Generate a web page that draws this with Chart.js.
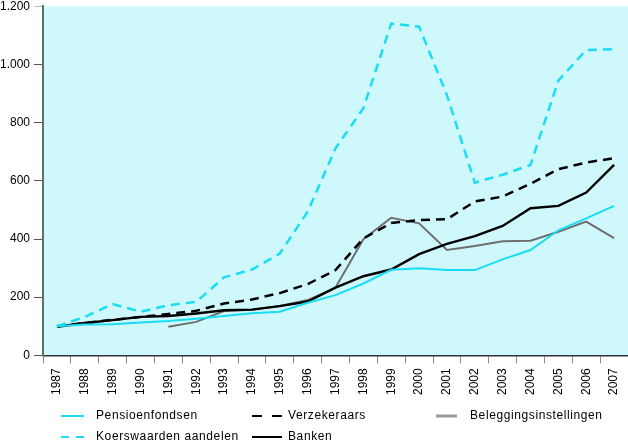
<!DOCTYPE html>
<html><head><meta charset="utf-8">
<script src="https://cdn.jsdelivr.net/npm/chart.js@4"></script>
<style>html,body{margin:0;padding:0;background:#fff}#wrap{width:628px;height:440px;position:relative}</style>
</head><body><div id="wrap"><canvas id="c" width="628" height="440"></canvas></div>
<script>
const years = ['1987','1988','1989','1990','1991','1992','1993','1994','1995','1996','1997','1998','1999','2000','2001','2002','2003','2004','2005','2006','2007'];
const pensioenfondsen = [100,106,107,113,118,126,135,145,150,181,207,247,294,299,293,293,330,362,430,471,514];
const koerswaardenAandelen = [100,132,176,150,172,184,268,295,350,494,712,850,1141,1130,895,594,621,655,945,1050,1053];
const verzekeraars = [100,111,122,132,142,153,178,192,214,245,293,402,455,465,468,529,546,590,640,663,678];
const banken = [98,111,121,132,135,144,155,157,169,185,233,272,295,348,383,410,445,506,514,560,655];
const beleggingsinstellingen = [null,null,null,null,98,115,152,157,170,190,233,399,473,454,362,376,392,394,425,460,403];
const yTickValues = [0,200,400,600,800,1000,1200];

const CYAN = '#19DCF6', GRAY = '#6E6E6E', BLACK = '#000000';
const FONT = 'Liberation Sans, Arial, Helvetica, sans-serif';
const fmt = v => String(v).replace(/\B(?=(\d{3})+(?!\d))/g, '.');

// legend layout per dataset: sample start/end x, text x, row y, sample dash
const legendLayout = [
  {x0:61,  x1:84,  tx:96,  y:416, dash:[]},
  {x0:61,  x1:84,  tx:96,  y:437, dash:[8,7]},
  {x0:252, x1:282, tx:288, y:416, dash:[10,10]},
  {x0:252, x1:282, tx:288, y:437, dash:[]},
  {x0:436, x1:457, tx:470, y:416, dash:[], color:'#9a9a9a', width:3}
];

const bgPlugin = {
  id: 'bg',
  beforeDraw(chart) {
    const {ctx, chartArea: a} = chart;
    ctx.save();
    ctx.fillStyle = '#CFF8FC';
    ctx.fillRect(a.left, a.top, a.right - a.left + 1, a.bottom - a.top);
    ctx.restore();
  }
};

const legendPlugin = {
  id: 'customLegend',
  afterDraw(chart) {
    const ctx = chart.ctx;
    ctx.save();
    chart.data.datasets.forEach((ds, i) => {
      const L = legendLayout[i];
      ctx.beginPath();
      ctx.strokeStyle = L.color || ds.borderColor;
      ctx.lineWidth = L.width || 2;
      ctx.setLineDash(L.dash);
      ctx.moveTo(L.x0, L.y);
      ctx.lineTo(L.x1, L.y);
      ctx.stroke();
      ctx.setLineDash([]);
      ctx.fillStyle = '#000';
      ctx.font = '12px ' + FONT;
      if ('letterSpacing' in ctx) ctx.letterSpacing = '0.6px';
      ctx.textBaseline = 'middle';
      ctx.textAlign = 'left';
      ctx.fillText(ds.label, L.tx, L.y);
    });
    ctx.restore();
  }
};

new Chart(document.getElementById('c'), {
  type: 'line',
  data: {
    labels: years,
    datasets: [
      {label:'Pensioenfondsen', data: pensioenfondsen, borderColor: CYAN, borderWidth: 2},
      {label:'Koerswaarden aandelen', data: koerswaardenAandelen, borderColor: CYAN, borderWidth: 2.5, borderDash:[9,6]},
      {label:'Verzekeraars', data: verzekeraars, borderColor: BLACK, borderWidth: 2.5, borderDash:[9,6]},
      {label:'Banken', data: banken, borderColor: BLACK, borderWidth: 2.4},
      {label:'Beleggingsinstellingen', data: beleggingsinstellingen, borderColor: GRAY, borderWidth: 2}
    ].map(d => Object.assign({pointRadius:0, tension:0, fill:false, spanGaps:false, borderCapStyle:'butt'}, d))
  },
  options: {
    responsive: false,
    devicePixelRatio: 1,
    animation: false,
    layout: {padding: {left: -4, right: 0, top: 0, bottom: 40}},
    plugins: {legend: {display: false}, tooltip: {enabled: false}},
    scales: {
      x: {
        offset: true,
        grid: {offset: true, drawOnChartArea: false, tickLength: 8, color: '#8a8a8a', lineWidth: 1},
        border: {color: '#333', width: 1.5},
        ticks: {autoSkip: false, maxRotation: 90, minRotation: 90, padding: 5, color: '#000', font: {family: FONT, size: 12, lineHeight: 0.2}}
      },
      y: {
        min: 0, max: 1200,
        afterBuildTicks: axis => { axis.ticks = yTickValues.map(v => ({value: v})); },
        grid: {drawOnChartArea: false, tickLength: 9, lineWidth: 1,
               color: c => (c.tick && c.tick.value === 1200) ? '#bbbbbb' : '#555'},
        border: {color: '#5f6f70', width: 2},
        ticks: {padding: 4, color: '#000', font: {family: FONT, size: 12, lineHeight: 0.4}, callback: v => fmt(v)}
      }
    }
  },
  plugins: [bgPlugin, legendPlugin]
});
</script></body></html>
